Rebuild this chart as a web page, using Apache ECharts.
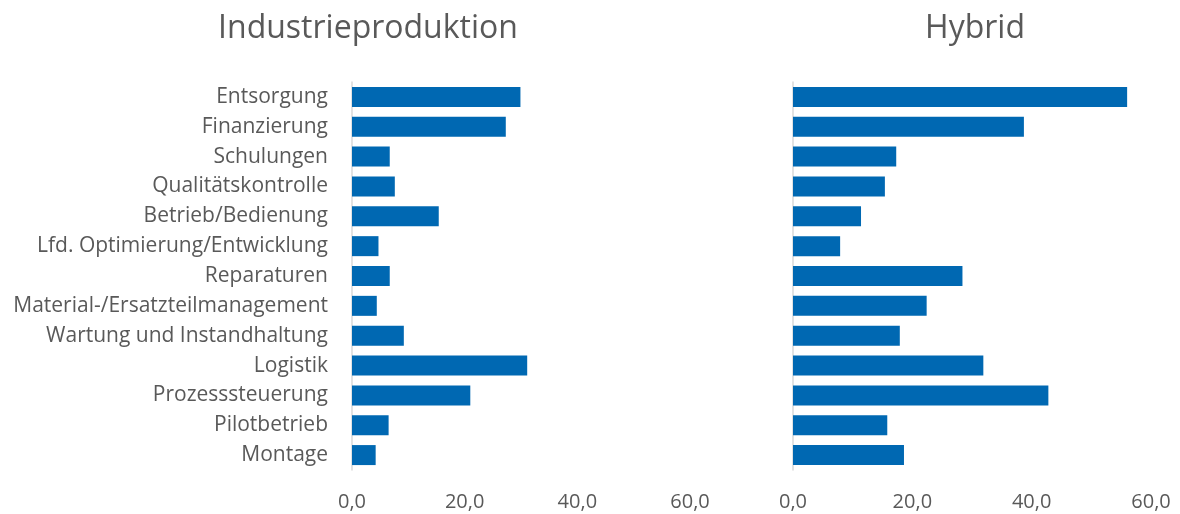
<!DOCTYPE html>
<html><head><meta charset="utf-8">
<script src="https://cdn.jsdelivr.net/npm/echarts@6/dist/echarts.min.js"></script>
<style>html,body{margin:0;padding:0;background:#fff}#c{width:1180px;height:514px}</style>
</head><body><div id="c"></div>
<script>
const categories = ["Entsorgung","Finanzierung","Schulungen","Qualitätskontrolle","Betrieb/Bedienung","Lfd. Optimierung/Entwicklung","Reparaturen","Material-/Ersatzteilmanagement","Wartung und Instandhaltung","Logistik","Prozesssteuerung","Pilotbetrieb","Montage"];
const industrieValues = [29.9,27.3,6.7,7.6,15.4,4.7,6.7,4.4,9.2,31.1,21.0,6.5,4.2];
const hybridValues = [56.0,38.7,17.3,15.4,11.4,7.9,28.4,22.4,17.9,31.9,42.8,15.8,18.6];
const panelTitles = ["Industrieproduktion","Hybrid"];
const xMin = 0, xMax = 60, xStep = 20;

const FONT = "Open Sans";
const GREY = "#595959";
const BAR = "#0068B2";
const chart = echarts.init(document.getElementById('c'), null, {renderer:'canvas'});
const gTop = 82, gHeight = 388;
function makeX(i){
  return {gridIndex:i,type:'value',min:xMin,max:xMax,interval:xStep,
    axisLine:{show:false},axisTick:{show:false},splitLine:{show:false},
    axisLabel:{color:GREY,fontFamily:FONT,fontSize:20,margin:22,
      formatter:v=>v.toFixed(1).replace('.',',')}};
}
function makeY(i,showLabels){
  return {gridIndex:i,type:'category',data:categories,inverse:true,
    axisLine:{show:true,lineStyle:{color:'#d9d9d9',width:1.5}},axisTick:{show:false},
    axisLabel:{show:showLabels,color:GREY,fontFamily:FONT,fontSize:21,margin:24}};
}
chart.setOption({
  animation:false,
  title:[
    {text:panelTitles[0],left:363,top:8,textAlign:'center',textStyle:{color:GREY,fontFamily:FONT,fontSize:32,fontWeight:'normal'}},
    {text:panelTitles[1],left:970,top:8,textAlign:'center',textStyle:{color:GREY,fontFamily:FONT,fontSize:32,fontWeight:'normal'}}
  ],
  grid:[
    {left:352,width:338,top:gTop,height:gHeight},
    {left:793,width:358,top:gTop,height:gHeight}
  ],
  xAxis:[makeX(0),makeX(1)],
  yAxis:[makeY(0,true),makeY(1,false)],
  series:[
    {type:'bar',xAxisIndex:0,yAxisIndex:0,data:industrieValues,barCategoryGap:'33%',itemStyle:{color:BAR}},
    {type:'bar',xAxisIndex:1,yAxisIndex:1,data:hybridValues,barCategoryGap:'33%',itemStyle:{color:BAR}}
  ]
});
</script></body></html>
